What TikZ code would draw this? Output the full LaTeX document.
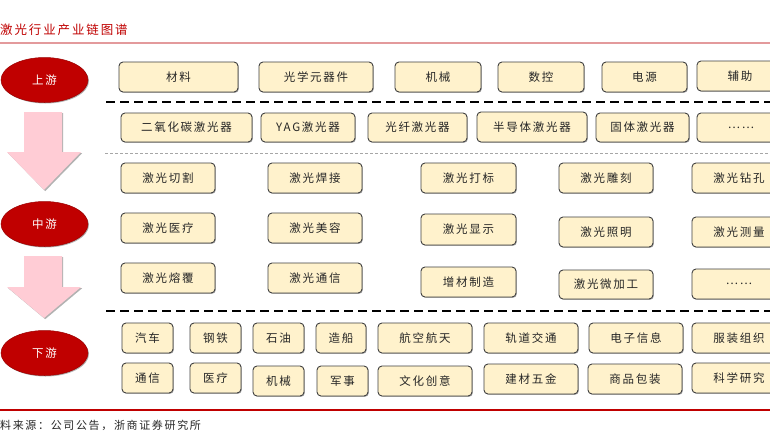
\documentclass[tikz,border=0pt]{standalone}
\usepackage{fontspec}
\setmainfont{Noto Sans CJK SC}
\newfontfamily\cjk[LetterSpace=15]{Noto Sans CJK SC}
\usetikzlibrary{shapes.geometric,shadows}
\definecolor{boxfill}{HTML}{FFF2CC}
\definecolor{boxline}{HTML}{404040}
\definecolor{txt}{HTML}{262626}
\definecolor{darkred}{HTML}{C00000}
\definecolor{pinkline}{HTML}{E39A9C}
\definecolor{arrowpink}{HTML}{FFCCD5}
\definecolor{dotgray}{HTML}{A6A6A6}
\tikzset{
  cbox/.style={draw=boxline, fill=boxfill, rounded corners=4pt, line width=0.9pt,
    inner sep=0pt, text=txt, font=\cjk\fontsize{11.5}{12}\selectfont,
    drop shadow={shadow xshift=0.9pt, shadow yshift=-0.9pt, opacity=0.3, fill=black}},
  stage/.style={ellipse, fill=darkred, draw=darkred!80!black, line width=0.5pt,
    minimum width=87pt, minimum height=45pt, inner sep=0pt, text=white,
    font=\cjk\fontsize{11.5}{12}\selectfont,
    drop shadow={shadow xshift=1pt, shadow yshift=-1pt, opacity=0.3, fill=black}},
  blockarrow/.style={fill=arrowpink, draw=none,
    drop shadow={shadow xshift=1.2pt, shadow yshift=-1.2pt, opacity=0.3, fill=black}},
  blackdash/.style={line width=2pt, dash pattern=on 9pt off 5pt, black},
  graydot/.style={line width=1pt, dash pattern=on 3pt off 2pt, dotgray},
}
\newcommand\cb[6]{\node[cbox, minimum width=#4pt, minimum height=#5pt] (#1) at (#2,#3) {#6};}
\begin{document}
\begin{tikzpicture}[x=1pt, y=-1pt]
\useasboundingbox (0,0) rectangle (770,442);
\clip (0,0) rectangle (770,442);
\fill[white] (0,0) rectangle (770,442);

% title and rules
\node[anchor=west, inner sep=0pt, text=darkred, font=\cjk\fontsize{12.5}{13}\selectfont] (title) at (0,30) {激光行业产业链图谱};
\coordinate (tl) at (0,43); \coordinate (tr) at (770,43);
\draw[pinkline, line width=1.5pt] (tl) -- (tr);
\coordinate (d1l) at (106,102); \coordinate (d1r) at (770,102);
\draw[blackdash] (d1l) -- (d1r);
\coordinate (g1l) at (105,153); \coordinate (g1r) at (770,153);
\draw[graydot] (g1l) -- (g1r);
\coordinate (d2l) at (106,311); \coordinate (d2r) at (770,311);
\draw[blackdash] (d2l) -- (d2r);
\coordinate (bl) at (0,410); \coordinate (br) at (770,410);
\draw[darkred, line width=1.2pt] (bl) -- (br);
\node[anchor=west, inner sep=0pt, text=txt, font=\cjk\fontsize{11}{12}\selectfont] (source) at (0,425) {料来源：公司公告，浙商证券研究所};

% stage ellipses
\node[stage] (up) at (44.5,80) {上游};
\node[stage] (mid) at (44.5,224) {中游};
\node[stage] (down) at (44.5,353) {下游};

% block arrows
\path[blockarrow] (24,112) -- (62,112) -- (62,152) -- (81,152) -- (44,190) -- (7,152) -- (24,152) -- cycle;
\path[blockarrow] (24,256) -- (62,256) -- (62,287) -- (81,287) -- (44,318) -- (7,287) -- (24,287) -- cycle;

% upstream row 1
\cb{u1}{178.5}{77}{119}{30}{材料}
\cb{u2}{316}{77}{114}{30}{光学元器件}
\cb{u3}{438}{77}{86}{30}{机械}
\cb{u4}{541}{77}{86}{30}{数控}
\cb{u5}{644.5}{77}{85}{30}{电源}
\cb{u6}{740}{76}{86}{30}{辅助}
% upstream row 2
\cb{l1}{186.5}{127.5}{131}{29}{二氧化碳激光器}
\cb{l2}{308}{127.5}{94}{29}{YAG激光器}
\cb{l3}{417.5}{127.5}{99}{29}{光纤激光器}
\cb{l4}{532}{127}{110}{30}{半导体激光器}
\cb{l5}{642.5}{127.5}{93}{29}{固体激光器}
\cb{l6}{741}{127.5}{88}{29}{……}

% midstream
\cb{m11}{168}{178}{94}{30}{激光切割}
\cb{m12}{315}{178}{94}{30}{激光焊接}
\cb{m13}{468.5}{178}{95}{30}{激光打标}
\cb{m14}{606}{178}{94}{30}{激光雕刻}
\cb{m15}{739}{178}{94}{30}{激光钻孔}
\cb{m21}{168}{228}{94}{30}{激光医疗}
\cb{m22}{315}{228}{94}{30}{激光美容}
\cb{m23}{468.5}{229.5}{95}{31}{激光显示}
\cb{m24}{606}{232}{94}{30}{激光照明}
\cb{m25}{739}{232}{94}{30}{激光测量}
\cb{m31}{168}{278}{94}{30}{激光熔覆}
\cb{m32}{315}{278}{94}{30}{激光通信}
\cb{m33}{468.5}{282}{95}{30}{增材制造}
\cb{m34}{606}{284.5}{94}{29}{激光微加工}
\cb{m35}{739}{284}{94}{30}{……}

% downstream row 1
\cb{a1}{147.5}{338}{51}{30}{汽车}
\cb{a2}{215.5}{338}{51}{30}{钢铁}
\cb{a3}{278.5}{338}{51}{30}{石油}
\cb{a4}{341}{338}{50}{30}{造船}
\cb{a5}{425}{338}{94}{30}{航空航天}
\cb{a6}{531}{338}{94}{30}{轨道交通}
\cb{a7}{636}{338}{94}{30}{电子信息}
\cb{a8}{739}{338}{94}{30}{服装组织}
% downstream row 2
\cb{b1}{147.5}{378}{51}{30}{通信}
\cb{b2}{215.5}{378}{51}{30}{医疗}
\cb{b3}{278.5}{381}{51}{30}{机械}
\cb{b4}{342.5}{381}{51}{30}{军事}
\cb{b5}{425}{381}{94}{30}{文化创意}
\cb{b6}{531}{379}{94}{30}{建材五金}
\cb{b7}{635}{379}{94}{30}{商品包装}
\cb{b8}{739}{378}{94}{30}{科学研究}
\end{tikzpicture}
\end{document}
